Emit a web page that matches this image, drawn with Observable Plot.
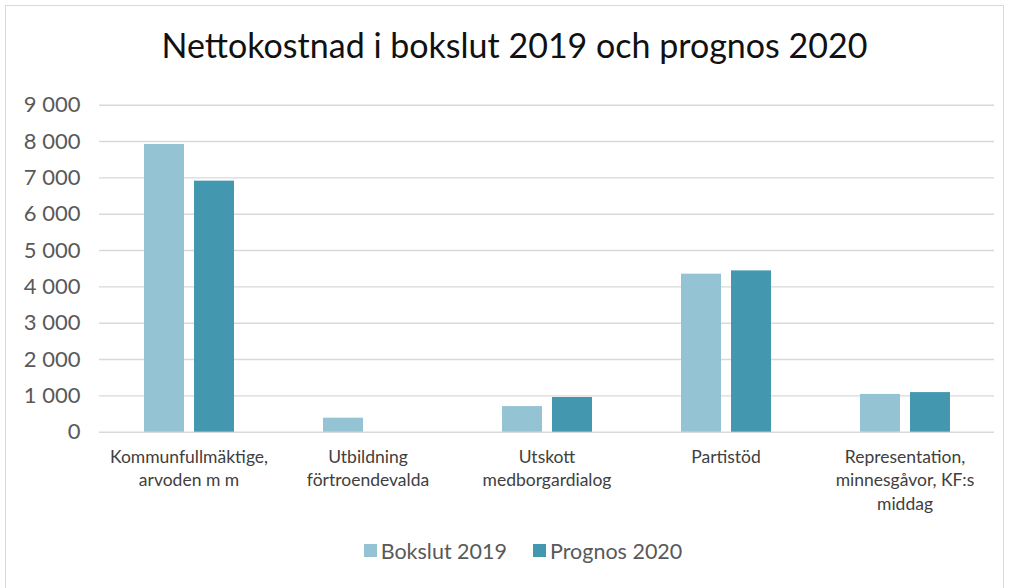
<!DOCTYPE html>
<html>
<head>
<meta charset="utf-8">
<script src="https://cdn.jsdelivr.net/npm/d3@7"></script>
<script src="https://cdn.jsdelivr.net/npm/@observablehq/plot@0.6"></script>
<style>
  html, body { margin: 0; padding: 0; background: #fff; }
  #wrap { position: relative; width: 1011px; height: 588px; overflow: hidden; font-family: Lato, "Open Sans", sans-serif; }
  #frame { position: absolute; left: 5px; top: 5px; width: 999px; height: 600px; border: 1px solid #d9d9d9; box-sizing: border-box; }
  #title { position: absolute; left: 0; width: 1029px; top: 25px; text-align: center; font-size: 34px; line-height: 40px; color: #111; white-space: nowrap; }
  #chart { position: absolute; left: 0; top: 0; }
  #legend { position: absolute; left: 0; width: 1046px; top: 535px; text-align: center; font-size: 21.5px; line-height: 28px; color: #595959; white-space: nowrap; }
  #legend .item { display: inline-flex; align-items: center; margin: 0 13px; }
  #legend .sw { display: inline-block; width: 13px; height: 13px; margin-right: 4px; }
</style>
</head>
<body>
<div id="wrap">
  <div id="frame"></div>
  <div id="title">Nettokostnad i bokslut 2019 och prognos 2020</div>
  <div id="chart"></div>
  <div id="legend"></div>
</div>
<script>
const categories = ["Kommunfullmäktige, arvoden m m", "Utbildning förtroendevalda", "Utskott medborgardialog", "Partistöd", "Representation, minnesgåvor, KF:s middag"];
const categoryLabels = ["Kommunfullmäktige,\narvoden m m", "Utbildning\nförtroendevalda", "Utskott\nmedborgardialog", "Partistöd", "Representation,\nminnesgåvor, KF:s\nmiddag"];
const series = ["Bokslut 2019", "Prognos 2020"];
const bokslut2019 = [7920, 385, 705, 4350, 1040];
const prognos2020 = [6910, null, 955, 4440, 1090];
const colors = ["#94c3d4", "#4398b0"];
const yTicks = [0, 1000, 2000, 3000, 4000, 5000, 6000, 7000, 8000, 9000];

const rows = [];
categories.forEach((c, i) => {
  rows.push({category: c, series: series[0], value: bokslut2019[i]});
  rows.push({category: c, series: series[1], value: prognos2020[i]});
});
const labelOf = new Map(categories.map((c, i) => [c, categoryLabels[i]]));
const fmt = v => d3.format(",")(v).replace(/,/g, " ");

const chart = Plot.plot({
  width: 1011,
  height: 530,
  marginTop: 104.7,
  marginBottom: 98.3,
  marginLeft: 99,
  marginRight: 17,
  style: {fontFamily: "Lato, 'Open Sans', sans-serif", background: "transparent"},
  fx: {domain: categories, paddingInner: 0, paddingOuter: 0, label: null},
  x: {domain: series, paddingInner: 0.2, paddingOuter: 0.886, axis: null},
  y: {domain: [0, 9000], ticks: yTicks, label: null},
  color: {domain: series, range: colors},
  marks: [
    Plot.ruleY(yTicks, {stroke: "#d9d9d9", strokeWidth: 1.4}),
    Plot.barY(rows.filter(d => d.value != null), {fx: "category", x: "series", y: "value", fill: "series"}),
    Plot.axisY({ticks: yTicks, tickFormat: fmt, tickSize: 0, tickPadding: 19, fontSize: 22, fill: "#595959", label: null}),
    Plot.axisFx({anchor: "bottom", tickFormat: d => labelOf.get(d), tickSize: 0, tickPadding: 14, fontSize: 17.5, lineHeight: 1.34, fill: "#404040", label: null})
  ]
});
document.getElementById("chart").appendChild(chart);

const legend = document.getElementById("legend");
series.forEach((s, i) => {
  const item = document.createElement("span");
  item.className = "item";
  const sw = document.createElement("span");
  sw.className = "sw";
  sw.style.background = colors[i];
  item.appendChild(sw);
  item.appendChild(document.createTextNode(s));
  legend.appendChild(item);
});
</script>
</body>
</html>
